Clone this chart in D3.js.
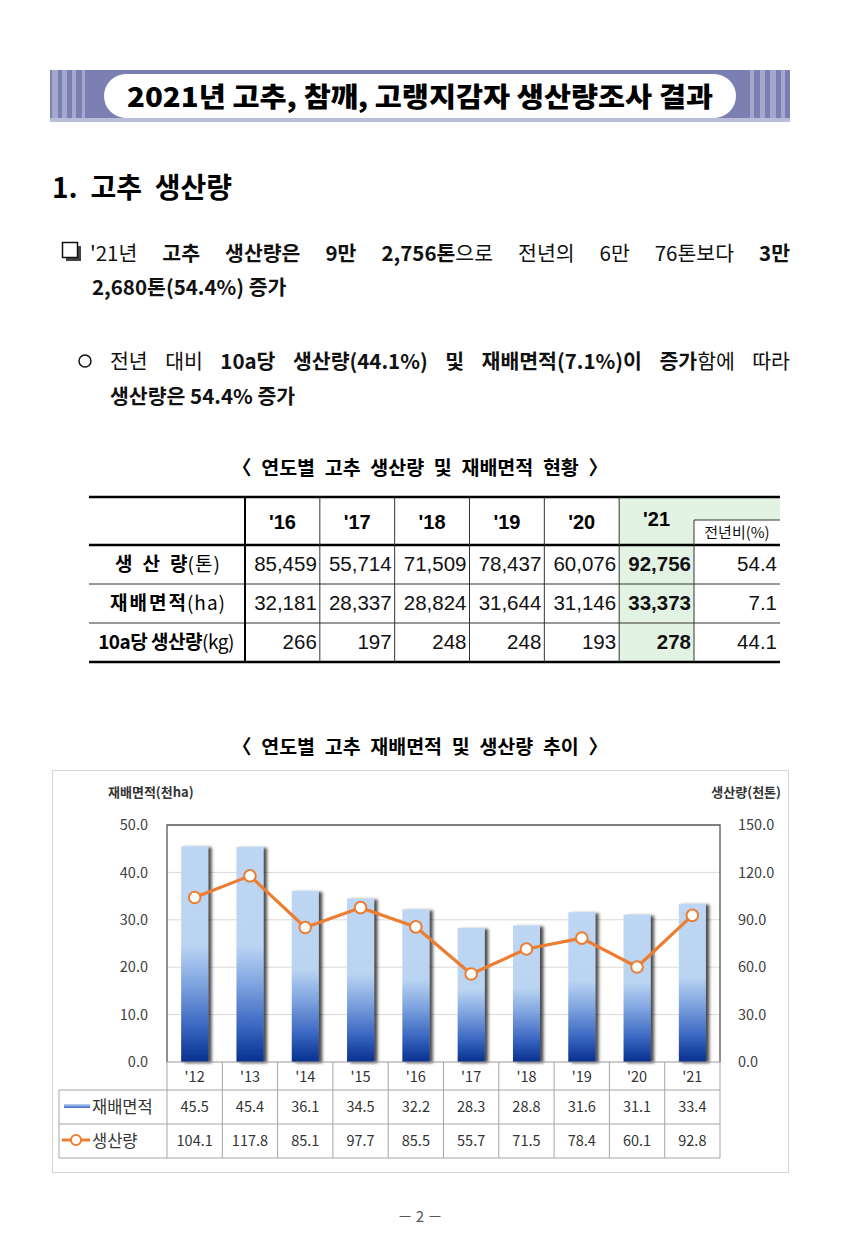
<!DOCTYPE html>
<html><head><meta charset="utf-8">
<script src="https://cdn.jsdelivr.net/npm/d3@7"></script>
<style>
body{margin:0;background:#fff}
svg{display:block}
text{font-family:"Noto Sans CJK KR","Noto Sans",sans-serif}
.lat{font-family:"Liberation Sans",Arial,sans-serif}
</style>
</head><body>
<svg id="c" width="855" height="1258"></svg>
<script>
// ---------- data ----------
const years = ["'12","'13","'14","'15","'16","'17","'18","'19","'20","'21"];
const area = [45.5,45.4,36.1,34.5,32.2,28.3,28.8,31.6,31.1,33.4];
const production = [104.1,117.8,85.1,97.7,85.5,55.7,71.5,78.4,60.1,92.8];
const leftTicks = [0,10,20,30,40,50];
const rightTicks = [0,30,60,90,120,150];
const seriesNames = ["재배면적","생산량"];

const tableYears = ["'16","'17","'18","'19","'20","'21"];
const tableProd = ["85,459","55,714","71,509","78,437","60,076","92,756"];
const tableArea = ["32,181","28,337","28,824","31,644","31,146","33,373"];
const tableYield = ["266","197","248","248","193","278"];
const tableChange = ["54.4","7.1","44.1"];

const svg = d3.select("#c");
const defs = svg.append("defs");

function fitSpacing(t,target){
  const w = t.node().getComputedTextLength();
  const s = t.text().split(" ").length-1;
  if(s>0) t.attr("word-spacing",(target-w)/s);
}

// ---------- banner ----------
const ban = svg.append("g");
ban.append("rect").attr("x",50).attr("y",70).attr("width",740).attr("height",52).attr("fill","#7b7fb2");
[[52,6],[62,5],[72,4],[82,3]].forEach(([x,w])=>ban.append("rect").attr("x",x).attr("y",70).attr("width",w).attr("height",52).attr("fill","#a4a8cf"));
[[770,6],[760,5],[750,4],[781,4]].forEach(([x,w])=>ban.append("rect").attr("x",x).attr("y",70).attr("width",w).attr("height",52).attr("fill","#a4a8cf"));
ban.append("rect").attr("x",50).attr("y",118).attr("width",740).attr("height",4).attr("fill","#b9bcda");
ban.append("rect").attr("x",104).attr("y",74).attr("width",632).attr("height",44).attr("rx",22).attr("fill","#fff");
ban.append("text").attr("x",420).attr("y",107).attr("text-anchor","middle")
  .attr("font-size",27).attr("font-weight",900).attr("textLength",586).attr("lengthAdjust","spacingAndGlyphs")
  .text("2021년 고추, 참깨, 고랭지감자 생산량조사 결과");

// ---------- heading ----------
const hd = svg.append("text").attr("x",52).attr("y",198).attr("font-size",28).attr("font-weight",700).text("1. 고추 생산량");
fitSpacing(hd,180);

// ---------- paragraphs ----------
function richLine(x,y,parts,target){
  const t = svg.append("text").attr("x",x).attr("y",y).attr("font-size",20.5).attr("fill","#111");
  parts.forEach(([s,b])=>t.append("tspan").attr("font-weight",b?700:400).text(s));
  if(target){
    const w = t.node().getComputedTextLength();
    const spaces = parts.map(p=>p[0]).join("").split(" ").length-1;
    if(spaces>0) t.attr("word-spacing",(target-w)/spaces);
  }
  return t;
}
// checkbox
svg.append("rect").attr("x",66).attr("y",246).attr("width",15).attr("height",15).attr("fill","#444");
svg.append("rect").attr("x",62.5).attr("y",242.5).attr("width",15).attr("height",15).attr("fill","#fff").attr("stroke","#111").attr("stroke-width",1.5);
richLine(90,261,[["'21년 ",0],["고추 생산량은 9만 2,756톤",1],["으로 전년의 6만 76톤보다 ",0],["3만",1]],700);
richLine(92,295,[["2,680톤(54.4%) 증가",1]]);
svg.append("circle").attr("cx",85).attr("cy",361).attr("r",6).attr("fill","none").attr("stroke","#111").attr("stroke-width",1.5);
richLine(110,369,[["전년 대비 ",0],["10a당 생산량(44.1%) 및 재배면적(7.1%)이 증가",1],["함에 따라",0]],680);
richLine(110,404,[["생산량은 54.4% 증가",1]]);

// ---------- table ----------
const cap1 = svg.append("text").attr("x",232).attr("y",475).attr("font-size",19.5).attr("font-weight",700)
  .text("〈 연도별 고추 생산량 및 재배면적 현황 〉");
fitSpacing(cap1,376);

const tb = svg.append("g");
const colX = d3.scaleBand().domain(tableYears).range([245,694]);
const rowsY = [545,584,623,662];
// green highlight
tb.append("rect").attr("x",colX("'21")).attr("y",497).attr("width",colX.bandwidth()).attr("height",165).attr("fill","#e3f3e3");
tb.append("rect").attr("x",694).attr("y",497).attr("width",86).attr("height",23).attr("fill","#e3f3e3");
// lines
tb.append("line").attr("x1",89).attr("x2",780).attr("y1",497).attr("y2",497).attr("stroke","#000").attr("stroke-width",2.5);
tb.append("line").attr("x1",89).attr("x2",780).attr("y1",545).attr("y2",545).attr("stroke","#000").attr("stroke-width",2.5);
tb.append("line").attr("x1",89).attr("x2",780).attr("y1",662).attr("y2",662).attr("stroke","#000").attr("stroke-width",2.5);
[584,623].forEach(y=>tb.append("line").attr("x1",89).attr("x2",780).attr("y1",y).attr("y2",y).attr("stroke","#333").attr("stroke-width",1));
tb.append("line").attr("x1",694).attr("x2",780).attr("y1",520).attr("y2",520).attr("stroke","#333").attr("stroke-width",1);
tb.append("line").attr("x1",245).attr("x2",245).attr("y1",497).attr("y2",662).attr("stroke","#000").attr("stroke-width",2);
tableYears.slice(1).forEach(y=>tb.append("line").attr("x1",colX(y)).attr("x2",colX(y)).attr("y1",497).attr("y2",662).attr("stroke","#333").attr("stroke-width",1));
tb.append("line").attr("x1",694).attr("x2",694).attr("y1",520).attr("y2",662).attr("stroke","#333").attr("stroke-width",1);
// header
tableYears.forEach(y=>tb.append("text").attr("class","lat").attr("x",colX(y)+colX.bandwidth()/2).attr("y",y==="'21"?526:529)
  .attr("text-anchor","middle").attr("font-size",20).attr("font-weight",700).text(y));
tb.append("text").attr("x",737).attr("y",538).attr("text-anchor","middle").attr("font-size",15).attr("fill","#111").text("전년비(%)");
// row labels
const lab1 = tb.append("text").attr("x",168).attr("y",571).attr("text-anchor","middle").attr("font-size",19);
lab1.append("tspan").attr("font-weight",700).attr("letter-spacing",10).text("생산");
lab1.append("tspan").attr("font-weight",700).text("량");
lab1.append("tspan").attr("letter-spacing",1).text("(톤)");
const lab2 = tb.append("text").attr("x",168).attr("y",610).attr("text-anchor","middle").attr("font-size",19);
lab2.append("tspan").attr("font-weight",700).attr("letter-spacing",2).text("재배면");
lab2.append("tspan").attr("font-weight",700).attr("letter-spacing",1).text("적");
lab2.append("tspan").attr("letter-spacing",1).text("(ha)");
const lab3 = tb.append("text").attr("x",166).attr("y",649).attr("text-anchor","middle").attr("font-size",19).attr("letter-spacing",-0.5);
lab3.append("tspan").attr("font-weight",700).text("10a당 생산량");
lab3.append("tspan").text("(kg)");
// values
[tableProd,tableArea,tableYield].forEach((arr,ri)=>{
  arr.forEach((v,i)=>{
    const y = tableYears[i];
    tb.append("text").attr("class","lat").attr("x",colX(y)+colX.bandwidth()-3).attr("y",rowsY[ri]+26)
      .attr("text-anchor","end").attr("font-size",20.5).attr("font-weight",y==="'21"?700:400).attr("fill","#111").text(v);
  });
  tb.append("text").attr("class","lat").attr("x",777).attr("y",rowsY[ri]+26).attr("text-anchor","end").attr("font-size",20.5).attr("fill","#111").text(tableChange[ri]);
});

// ---------- chart ----------
const cap2 = svg.append("text").attr("x",232).attr("y",754).attr("font-size",19.5).attr("font-weight",700)
  .text("〈 연도별 고추 재배면적 및 생산량 추이 〉");
fitSpacing(cap2,376);

svg.append("rect").attr("x",52.5).attr("y",770.5).attr("width",736).attr("height",402).attr("fill","#fff").attr("stroke","#d4d4d4");

const X0=167, X1=720, Y0=1062, Y1=825;
const x = d3.scaleBand().domain(years).range([X0,X1]);
const yL = d3.scaleLinear().domain([0,50]).range([Y0,Y1]);
const yR = d3.scaleLinear().domain([0,150]).range([Y0,Y1]);

const ch = svg.append("g");
ch.append("text").attr("x",108).attr("y",797).attr("font-size",13).attr("font-weight",700).attr("fill","#333").text("재배면적(천ha)");
ch.append("text").attr("x",781).attr("y",797).attr("text-anchor","end").attr("font-size",13).attr("font-weight",700).attr("fill","#333").text("생산량(천톤)");

// grid
ch.selectAll(".g").data(leftTicks.slice(1,-1)).join("line").attr("x1",X0).attr("x2",X1)
  .attr("y1",d=>yL(d)).attr("y2",d=>yL(d)).attr("stroke","#d9d9d9").attr("stroke-width",1);

// axes
const axL = ch.append("g").attr("transform",`translate(${X0},0)`)
  .call(d3.axisLeft(yL).tickValues(leftTicks).tickFormat(d3.format(".1f")).tickSize(0).tickPadding(19));
const axR = ch.append("g").attr("transform",`translate(${X1},0)`)
  .call(d3.axisRight(yR).tickValues(rightTicks).tickFormat(d3.format(".1f")).tickSize(0).tickPadding(18));
[axL,axR].forEach(a=>{a.select(".domain").remove();a.selectAll("text").attr("font-size",14.5).attr("fill","#404040")
  .attr("font-family","'Noto Sans CJK KR',sans-serif");});

// bar gradient + shadow
const grad = defs.append("linearGradient").attr("id","bg").attr("x1",0).attr("y1",0).attr("x2",0).attr("y2",1);
[[0,"#bcd6f4"],[0.46,"#bad4f2"],[0.64,"#7ea3df"],[0.83,"#3c68c2"],[1,"#06308e"]].forEach(([o,c])=>
  grad.append("stop").attr("offset",o).attr("stop-color",c));
const sh = defs.append("filter").attr("id","sh").attr("x","-50%").attr("y","-10%").attr("width","200%").attr("height","120%");
sh.append("feDropShadow").attr("dx",3.5).attr("dy",1).attr("stdDeviation",1.4).attr("flood-color","#000").attr("flood-opacity",0.7);

const bw = 27;
ch.selectAll(".bar").data(years).join("rect").attr("class","bar")
  .attr("x",d=>x(d)+x.bandwidth()/2-bw/2).attr("width",bw)
  .attr("y",(d,i)=>yL(area[i])).attr("height",(d,i)=>Y0-yL(area[i]))
  .attr("fill","url(#bg)").attr("filter","url(#sh)");

// plot frame
ch.append("path").attr("d",`M${X0},${Y0}V${Y1}H${X1}V${Y0}`).attr("fill","none").attr("stroke","#555").attr("stroke-width",1.3);
ch.append("line").attr("x1",X0).attr("x2",X1).attr("y1",Y0).attr("y2",Y0).attr("stroke","#999");

// line
const line = d3.line().x((d,i)=>x(years[i])+x.bandwidth()/2).y(d=>yR(d));
ch.append("path").datum(production).attr("d",line).attr("fill","none").attr("stroke","#ed7d31").attr("stroke-width",3.2).attr("stroke-linejoin","round");
ch.selectAll(".pt").data(production).join("circle").attr("class","pt")
  .attr("cx",(d,i)=>x(years[i])+x.bandwidth()/2).attr("cy",d=>yR(d)).attr("r",5.8)
  .attr("fill","#fff").attr("stroke","#ed7d31").attr("stroke-width",2);

// data table
const tl = "#a6a6a6";
const rows = [1090,1124,1158];
d3.range(years.length+1).forEach(i=>{
  const xx = X0 + i*x.bandwidth();
  ch.append("line").attr("x1",xx).attr("x2",xx).attr("y1",Y0).attr("y2",1158).attr("stroke",tl);
});
rows.forEach(r=>ch.append("line").attr("x1",59).attr("x2",X1).attr("y1",r).attr("y2",r).attr("stroke",tl));
ch.append("line").attr("x1",59).attr("x2",59).attr("y1",1090).attr("y2",1158).attr("stroke",tl);
ch.selectAll(".cat").data(years).join("text").attr("x",d=>x(d)+x.bandwidth()/2).attr("y",1082)
  .attr("text-anchor","middle").attr("font-size",14.5).attr("fill","#333").text(d=>d);
[area,production].forEach((arr,ri)=>{
  ch.selectAll(".v"+ri).data(arr).join("text").attr("x",(d,i)=>x(years[i])+x.bandwidth()/2).attr("y",rows[ri]+22)
    .attr("text-anchor","middle").attr("font-size",14.5).attr("fill","#333").text(d=>d.toFixed(1));
});
// legend keys
const lg = defs.append("linearGradient").attr("id","lg").attr("x1",0).attr("x2",0).attr("y1",0).attr("y2",1);
[[0,"#bcd6f4"],[1,"#3c68c2"]].forEach(([o,c])=>lg.append("stop").attr("offset",o).attr("stop-color",c));
ch.append("rect").attr("x",64).attr("y",1104).attr("width",26).attr("height",4).attr("fill","url(#lg)");
ch.append("text").attr("x",92).attr("y",1113).attr("font-size",16.5).attr("fill","#333").text(seriesNames[0]);
ch.append("line").attr("x1",62).attr("x2",90).attr("y1",1140).attr("y2",1140).attr("stroke","#ed7d31").attr("stroke-width",3);
ch.append("circle").attr("cx",76).attr("cy",1140).attr("r",5).attr("fill","#fff").attr("stroke","#ed7d31").attr("stroke-width",2);
ch.append("text").attr("x",92).attr("y",1147).attr("font-size",16.5).attr("fill","#333").text(seriesNames[1]);

// page number
svg.append("text").attr("x",420).attr("y",1222).attr("text-anchor","middle").attr("font-size",15).attr("fill","#555")
  .attr("font-family","'Liberation Serif',serif").text("－ 2 －");
</script>
</body></html>
